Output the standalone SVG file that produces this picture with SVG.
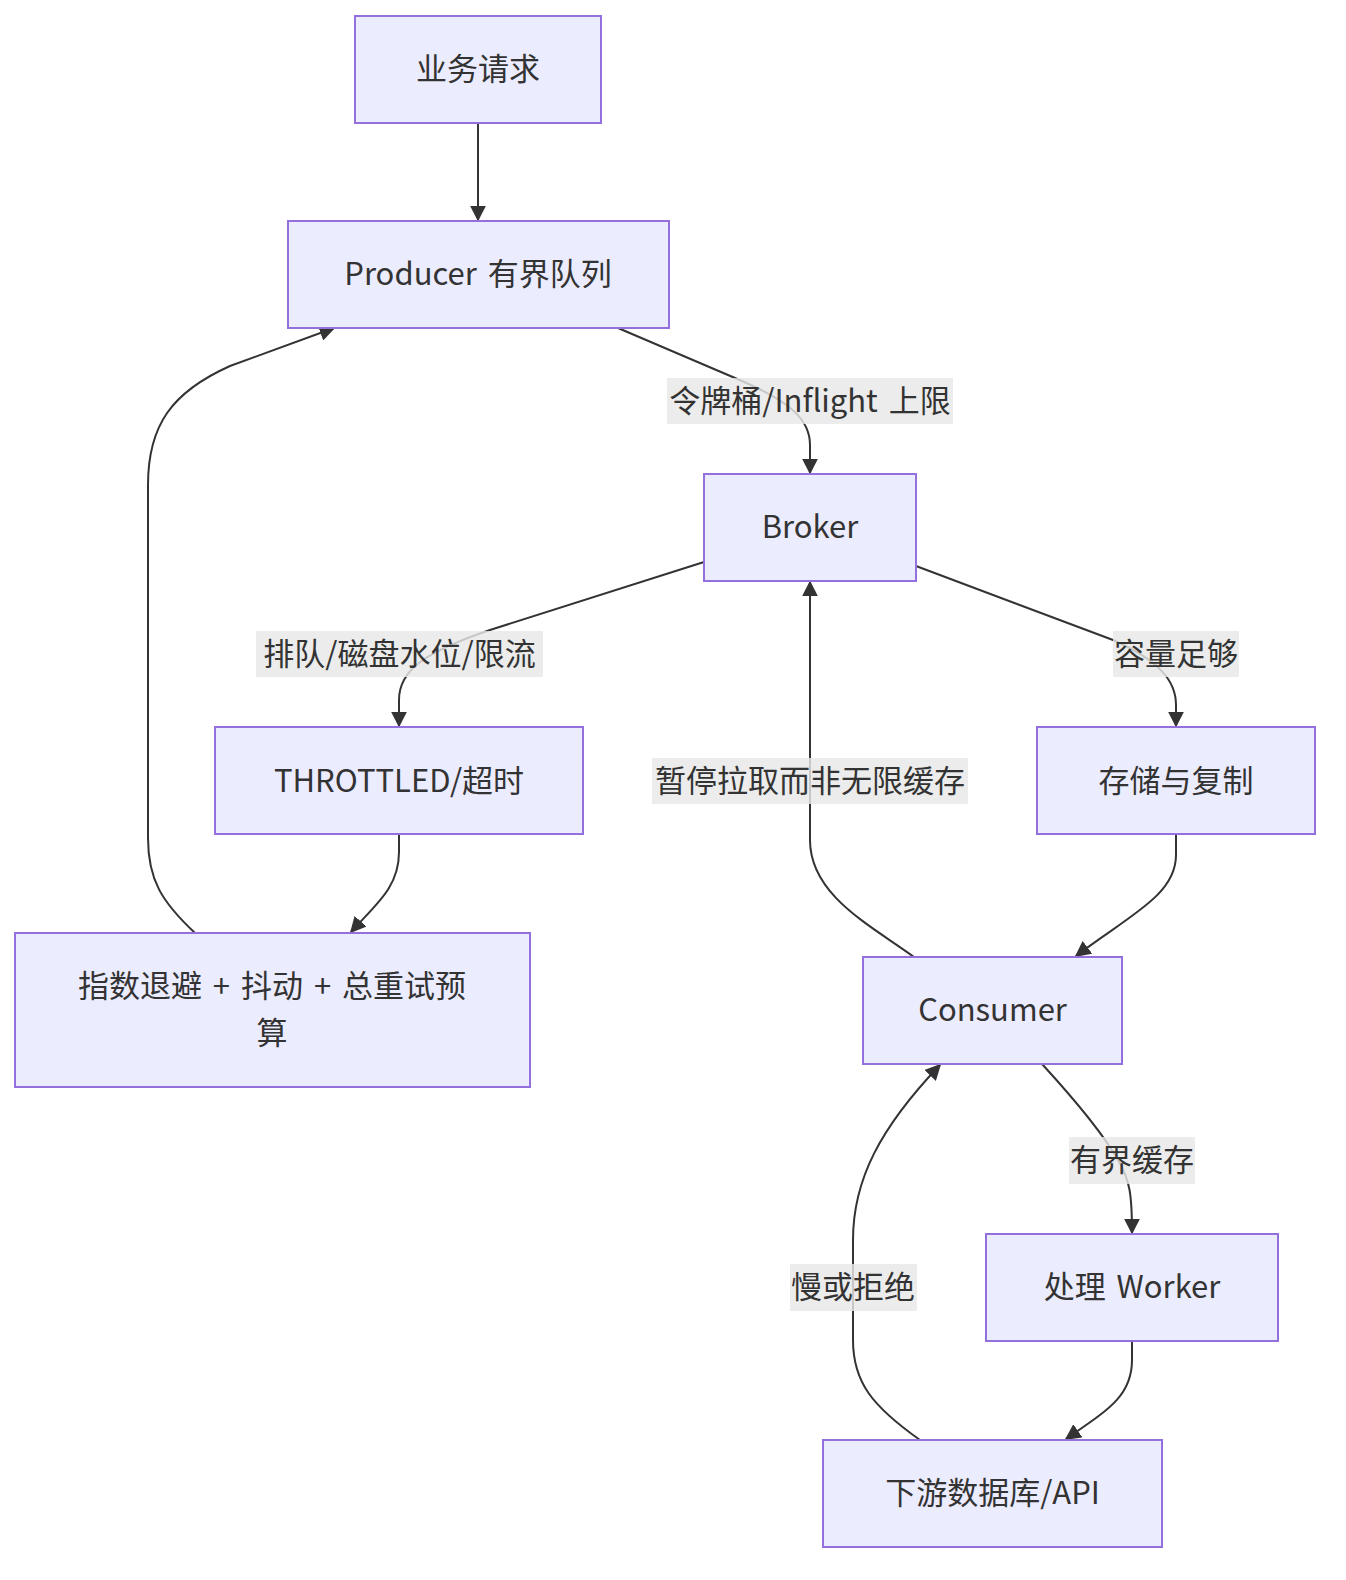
<svg xmlns="http://www.w3.org/2000/svg" width="1346" height="1580" viewBox="0 0 1346 1580">
<style>
.node rect{fill:#ECECFF;stroke:#9370DB;stroke-width:2}
text{font-family:"Noto Sans CJK SC","Noto Sans",sans-serif;font-size:31px;fill:#333;text-anchor:middle;dominant-baseline:central;word-spacing:4px}
.edge{fill:none;stroke:#333;stroke-width:2;marker-end:url(#arrow)}
.lbl rect{fill:#e8e8e8;fill-opacity:0.82}
</style>
<defs>
<marker id="arrow" viewBox="0 0 10 10" refX="9" refY="5" markerUnits="userSpaceOnUse" markerWidth="16" markerHeight="16" orient="auto">
<path d="M0,0 L10,5 L0,10 z" fill="#333"/>
</marker>
</defs>
<rect width="1346" height="1580" fill="#ffffff"/>
<g id="edges">
<path class="edge" d="M478,123 L478,220"/>
<path class="edge" d="M618,328 L735,378 C792,402 810,420 810,445 L810,473"/>
<path class="edge" d="M704,562 L490,630 C425,652 399,670 399,700 L399,726"/>
<path class="edge" d="M916,566 L1113,640 C1158,660 1176,680 1176,705 L1176,726"/>
<path class="edge" d="M399,835 L399,852 C399,888 375,905 351,932"/>
<path class="edge" d="M195,933 C162,902 148,880 148,838 L148,485 C148,425 172,392 230,366 L334,328"/>
<path class="edge" d="M914,957 C870,925 810,895 810,840 L810,582"/>
<path class="edge" d="M1176,835 L1176,855 C1176,895 1130,915 1076,956"/>
<path class="edge" d="M1042,1064 C1075,1100 1102,1132 1118,1160 C1130,1180 1132,1195 1132,1233"/>
<path class="edge" d="M1132,1341 L1132,1360 C1132,1396 1108,1410 1066,1439"/>
<path class="edge" d="M920,1440 C872,1406 853,1382 853,1340 L853,1240 C853,1180 880,1128 940,1065"/>
</g>
<g id="edge-labels">
<g class="lbl"><rect x="667" y="378" width="286" height="46"/><text x="810" y="398">令牌桶/Inflight 上限</text></g>
<g class="lbl"><rect x="256" y="631" width="287" height="46"/><text x="399.5" y="651">排队/磁盘水位/限流</text></g>
<g class="lbl"><rect x="1113" y="631" width="126" height="46"/><text x="1176" y="651">容量足够</text></g>
<g class="lbl"><rect x="652" y="758" width="316" height="46"/><text x="810" y="778">暂停拉取而非无限缓存</text></g>
<g class="lbl"><rect x="1069" y="1137" width="126" height="47"/><text x="1132" y="1157">有界缓存</text></g>
<g class="lbl"><rect x="790" y="1264" width="127" height="47"/><text x="853" y="1284">慢或拒绝</text></g>
</g>
<g id="n-request" class="node"><rect x="355" y="16" width="246" height="107"/><text x="478" y="66">业务请求</text></g>
<g id="n-producer" class="node"><rect x="288" y="221" width="381" height="107"/><text x="478" y="271">Producer 有界队列</text></g>
<g id="n-broker" class="node"><rect x="704" y="474" width="212" height="107"/><text x="810" y="524">Broker</text></g>
<g id="n-throttled" class="node"><rect x="215" y="727" width="368" height="107"/><text x="399" y="778">THROTTLED/超时</text></g>
<g id="n-storage" class="node"><rect x="1037" y="727" width="278" height="107"/><text x="1176" y="778">存储与复制</text></g>
<g id="n-retry" class="node"><rect x="15" y="933" width="515" height="154"/><text x="272" y="983">指数退避 + 抖动 + 总重试预</text><text x="272" y="1030">算</text></g>
<g id="n-consumer" class="node"><rect x="863" y="957" width="259" height="107"/><text x="992.5" y="1007">Consumer</text></g>
<g id="n-worker" class="node"><rect x="986" y="1234" width="292" height="107"/><text x="1132" y="1284">处理 Worker</text></g>
<g id="n-downstream" class="node"><rect x="823" y="1440" width="339" height="107"/><text x="992.5" y="1490">下游数据库/API</text></g>
</svg>
